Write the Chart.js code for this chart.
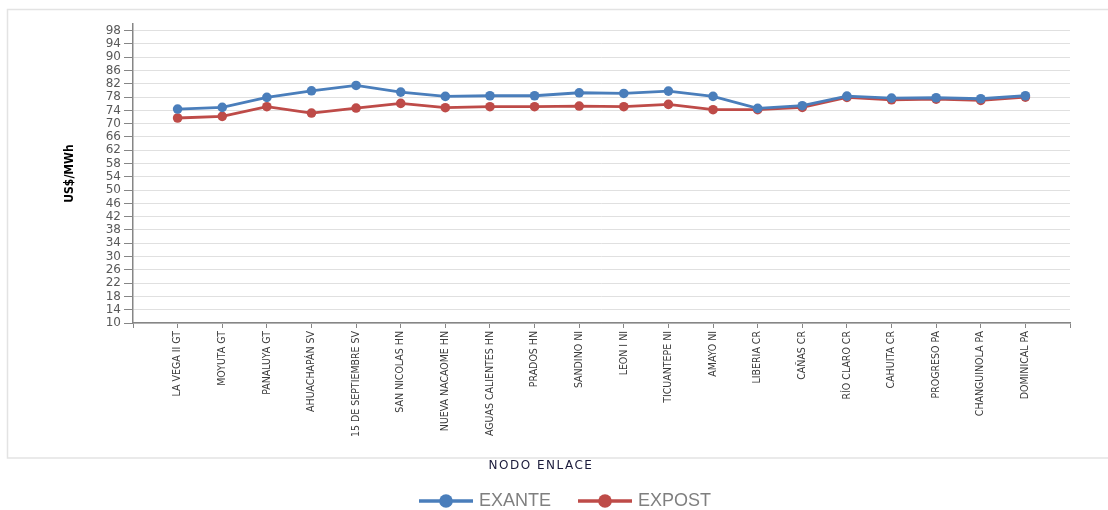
<!DOCTYPE html>
<html>
<head>
<meta charset="utf-8">
<script src="https://cdn.jsdelivr.net/npm/chart.js@4.4.1/dist/chart.umd.min.js"></script>
<style>
  html, body { margin: 0; padding: 0; background: #ffffff; }
  #wrap { width: 1108px; height: 510px; position: relative; }
</style>
</head>
<body>
<div id="wrap"><canvas id="c"></canvas></div>
<script>
const categories = [
  'LA VEGA II GT', 'MOYUTA GT', 'PANALUYA GT', 'AHUACHAPÁN SV', '15 DE SEPTIEMBRE SV',
  'SAN NICOLAS HN', 'NUEVA NACAOME HN', 'AGUAS CALIENTES HN', 'PRADOS HN', 'SANDINO NI',
  'LEON I NI', 'TICUANTEPE NI', 'AMAYO NI', 'LIBERIA CR', 'CAÑAS CR',
  'RÍO CLARO CR', 'CAHUITA CR', 'PROGRESO PA', 'CHANGUINOLA PA', 'DOMINICAL PA'
];
const exante = [74.4, 74.9, 77.9, 79.9, 81.5, 79.5, 78.2, 78.4, 78.4, 79.3,
                79.1, 79.8, 78.2, 74.6, 75.4, 78.3, 77.7, 77.8, 77.5, 78.4];
const expost = [71.7, 72.2, 75.1, 73.2, 74.7, 76.1, 74.8, 75.1, 75.1, 75.3,
                75.1, 75.8, 74.2, 74.2, 74.9, 77.9, 77.2, 77.4, 77.0, 78.0];
const seriesNames = ['EXANTE', 'EXPOST'];
const yTickValues = [10, 14, 18, 22, 26, 30, 34, 38, 42, 46, 50, 54, 58, 62, 66, 70, 74, 78, 82, 86, 90, 94, 98];
const xTitle = 'NODO ENLACE';
const yTitle = 'US$/MWh';

const BLUE = '#4A7EBB';
const RED = '#BE4B48';

function legendIcon(color) {
  const cv = document.createElement('canvas');
  cv.width = 56; cv.height = 16;
  const g = cv.getContext('2d');
  g.strokeStyle = color; g.lineWidth = 3.5;
  g.beginPath(); g.moveTo(1, 8); g.lineTo(55, 8); g.stroke();
  g.fillStyle = color;
  g.beginPath(); g.arc(28, 8, 6.8, 0, Math.PI * 2); g.fill();
  return cv;
}
const icons = [legendIcon(BLUE), legendIcon(RED)];

const frame = {
  id: 'frame',
  beforeDraw(chart) {
    const ctx = chart.ctx;
    ctx.save();
    ctx.fillStyle = '#fff';
    ctx.fillRect(0, 0, chart.width, chart.height);
    ctx.strokeStyle = '#e3e3e3';
    ctx.lineWidth = 1.5;
    ctx.strokeRect(7.5, 9.5, 1108, 448.5);
    ctx.restore();
  },
  afterDraw(chart) {
    const ctx = chart.ctx;
    ctx.save();
    ctx.font = "12px 'DejaVu Sans', sans-serif";
    if ('letterSpacing' in ctx) ctx.letterSpacing = '1.5px';
    ctx.fillStyle = '#1a1a3a';
    ctx.textAlign = 'center';
    ctx.textBaseline = 'middle';
    ctx.fillText(xTitle, 541, 466);
    ctx.restore();
  }
};

const toPts = arr => arr.map((v, i) => ({ x: i, y: v }));

new Chart(document.getElementById('c'), {
  type: 'line',
  data: {
    datasets: [
      { label: seriesNames[0], data: toPts(exante), borderColor: BLUE, backgroundColor: BLUE,
        borderWidth: 2.8, pointRadius: 4.8, pointBackgroundColor: BLUE, pointBorderWidth: 0, tension: 0 },
      { label: seriesNames[1], data: toPts(expost), borderColor: RED, backgroundColor: RED,
        borderWidth: 2.8, pointRadius: 4.8, pointBackgroundColor: RED, pointBorderWidth: 0, tension: 0 }
    ]
  },
  options: {
    responsive: true,
    maintainAspectRatio: false,
    animation: false,
    layout: { padding: { left: 63, right: 38, top: 24, bottom: -10 } },
    plugins: {
      tooltip: { enabled: false },
      legend: {
        position: 'bottom',
        labels: {
          usePointStyle: true,
          pointStyleWidth: 48,
          padding: 30,
          color: '#7f7f7f',
          font: { family: "'Liberation Sans', Arial, sans-serif", size: 18 },
          generateLabels(chart) {
            return chart.data.datasets.map((ds, i) => ({
              text: ds.label, pointStyle: icons[i], fillStyle: ds.borderColor,
              strokeStyle: ds.borderColor, lineWidth: 0, hidden: false, datasetIndex: i,
              fontColor: '#7f7f7f'
            }));
          }
        }
      }
    },
    scales: {
      x: {
        type: 'linear',
        min: -1,
        max: categories.length,
        afterFit(s) { s.height = 139; },
        afterBuildTicks(s) {
          const t = [];
          for (let i = -1; i <= categories.length; i++) t.push({ value: i });
          s.ticks = t;
        },
        ticks: {
          autoSkip: false,
          maxRotation: 90, minRotation: 90,
          padding: 3,
          color: '#3a3a3a',
          font: { family: "'Liberation Sans Narrow', 'DejaVu Sans Condensed', sans-serif", size: 10.5 },
          callback(v) { return categories[v] !== undefined ? categories[v] : ''; }
        },
        grid: { drawOnChartArea: false, color: '#868686', tickLength: 5, lineWidth: 1 },
        border: { color: '#868686', width: 1.5 },
        title: { display: false }
      },
      y: {
        min: 10, max: 100,
        afterFit(s) { s.width = 133 - 63; },
        afterBuildTicks(s) { s.ticks = yTickValues.map(v => ({ value: v })); },
        ticks: {
          autoSkip: false,
          padding: 3,
          color: '#595959',
          font: { family: "'DejaVu Sans', sans-serif", size: 12 }
        },
        grid: { color: '#e0e0e0', tickColor: '#868686', tickLength: 9, lineWidth: 1 },
        border: { color: '#868686', width: 1.5 },
        title: {
          display: true, text: yTitle, color: '#000',
          font: { family: "'Liberation Sans Narrow', 'DejaVu Sans Condensed', sans-serif", size: 12, weight: 'bold' },
          padding: { top: 0, bottom: 0 }
        }
      }
    }
  },
  plugins: [frame]
});
</script>
</body>
</html>
